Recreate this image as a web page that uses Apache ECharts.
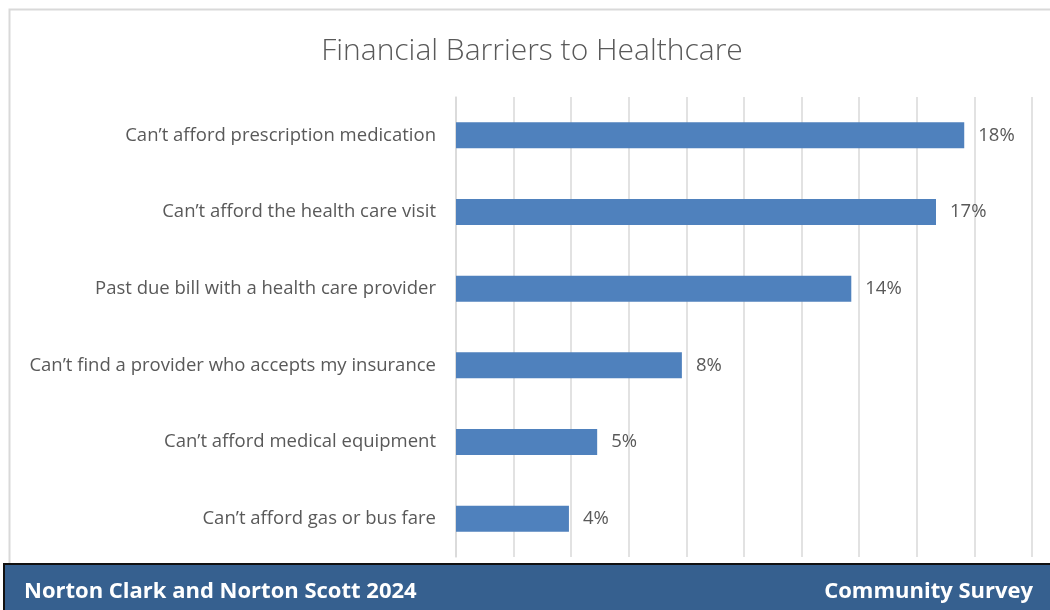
<!DOCTYPE html>
<html>
<head>
<meta charset="utf-8">
<script src="https://cdn.jsdelivr.net/npm/echarts@6/dist/echarts.min.js"></script>
<style>
  html, body { margin: 0; padding: 0; background: #ffffff; }
  #chart { width: 1050px; height: 610px; }
</style>
</head>
<body>
<div id="chart"></div>
<script>
// Survey items and share of respondents (percent)
const categories = [
  "Can\u2019t afford prescription medication",
  "Can\u2019t afford the health care visit",
  "Past due bill with a health care provider",
  "Can\u2019t find a provider who accepts my insurance",
  "Can\u2019t afford medical equipment",
  "Can\u2019t afford gas or bus fare"
];
const values = [18, 17, 14, 8, 5, 4];

const titleText = "Financial Barriers to Healthcare";
const footerLeft = "Norton Clark and Norton Scott 2024";
const footerRight = "Community Survey";

const chart = echarts.init(document.getElementById('chart'), null, { renderer: 'canvas' });

const textGrey = '#595959';
const fontFam = '"Open Sans", Lato, sans-serif';

chart.setOption({
  backgroundColor: '#ffffff',
  animation: false,
  title: {
    text: titleText,
    left: 527,
    textAlign: 'center',
    top: 31,
    textStyle: { fontFamily: fontFam, fontWeight: 300, fontSize: 30, color: textGrey }
  },
  grid: { left: 456, right: 18, top: 97, bottom: 53, containLabel: false },
  xAxis: {
    type: 'value',
    min: 0,
    max: 20.4,
    interval: 2.04,
    axisLabel: { show: false },
    axisLine: { show: false },
    axisTick: { show: false },
    splitLine: { show: true, lineStyle: { color: '#d9d9d9', width: 1.5 } }
  },
  yAxis: {
    type: 'category',
    inverse: true,
    data: categories,
    axisLine: { show: true, lineStyle: { color: '#d9d9d9', width: 1.5 } },
    axisTick: { show: false },
    axisLabel: { margin: 20, fontFamily: fontFam, fontSize: 18.5, color: textGrey }
  },
  series: [{
    type: 'bar',
    data: values,
    barCategoryGap: '66%',
    itemStyle: { color: '#4f81bd' },
    label: {
      show: true,
      position: 'right',
      distance: 14,
      formatter: '{c}%',
      fontFamily: fontFam,
      fontSize: 18.5,
      color: textGrey
    }
  }],
  graphic: [
    // light frame around the chart area
    {
      type: 'rect',
      shape: { x: 9.5, y: 9.5, width: 1060, height: 580 },
      style: { fill: null, stroke: '#d9d9d9', lineWidth: 2 },
      z: -1
    },
    // footer band
    {
      type: 'rect',
      shape: { x: 4, y: 564, width: 1050, height: 50 },
      style: { fill: '#36608f', stroke: '#111111', lineWidth: 2 },
      z: 10
    },
    {
      type: 'text',
      left: 24,
      top: 581,
      style: { text: footerLeft, fill: '#ffffff', font: 'bold 22px ' + fontFam },
      z: 11
    },
    {
      type: 'text',
      right: 17,
      top: 581,
      style: { text: footerRight, fill: '#ffffff', font: 'bold 22px ' + fontFam },
      z: 11
    }
  ]
});
</script>
</body>
</html>
